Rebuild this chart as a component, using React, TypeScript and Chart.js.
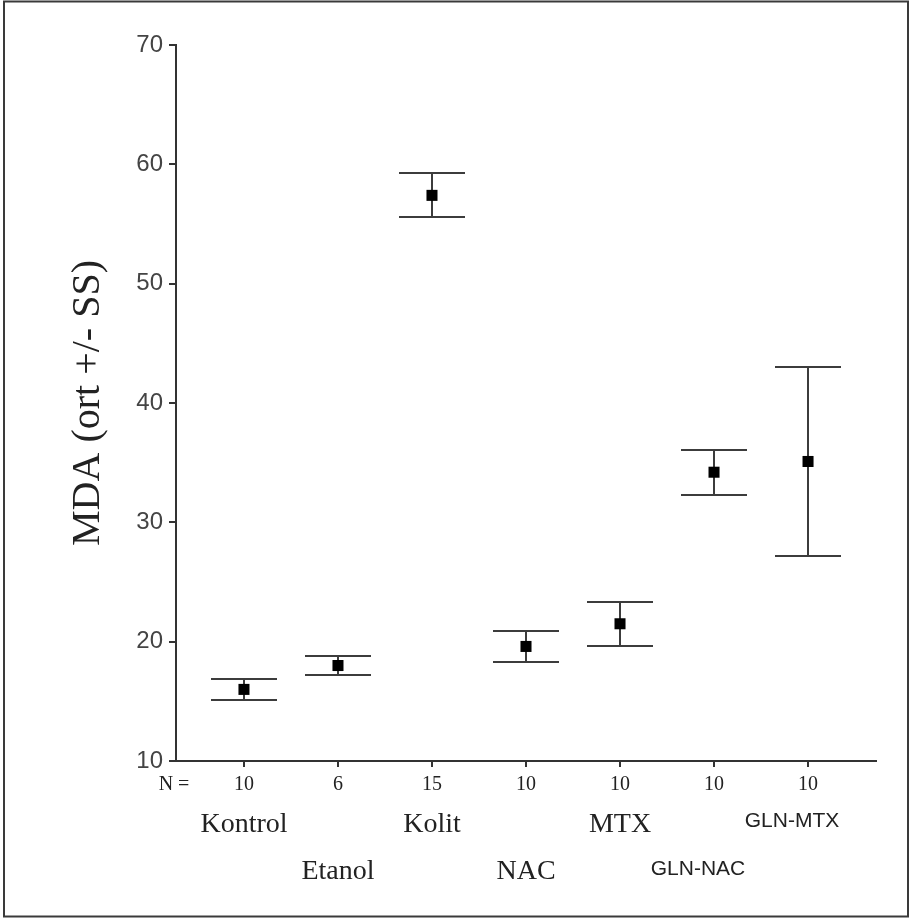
import React, { useEffect, useRef } from "react";
import { Chart, registerables } from "chart.js";

Chart.register(...registerables);

const categories = ["Kontrol", "Etanol", "Kolit", "NAC", "MTX", "GLN-NAC", "GLN-MTX"];
const nCounts = [10, 6, 15, 10, 10, 10, 10];
const means = [16.0, 18.0, 57.4, 19.6, 21.5, 34.2, 35.1];
const sds = [0.85, 0.77, 1.85, 1.3, 1.83, 1.9, 7.9];
const yTicks = [10, 20, 30, 40, 50, 60, 70];
const sansLabels = ["GLN-NAC", "GLN-MTX"];
const yTitle = "MDA (ort +/- SS)";

const LINE = "#333333";

const framePlugin = {
  id: "frame",
  beforeDraw(chart: any) {
    const { ctx, width, height } = chart;
    ctx.save();
    ctx.fillStyle = "#ffffff";
    ctx.fillRect(0, 0, width, height);
    ctx.strokeStyle = "#3a3a3a";
    ctx.lineWidth = 2;
    ctx.strokeRect(4, 1.5, 904, 915);
    ctx.restore();
  },
};

const errorBarPlugin = {
  id: "errorBars",
  beforeDatasetsDraw(chart: any) {
    const { ctx } = chart;
    const x = chart.scales.x;
    const y = chart.scales.y;
    ctx.save();
    ctx.strokeStyle = "#3c3c3c";
    ctx.lineWidth = 2;
    means.forEach((m, i) => {
      const px = Math.round(x.getPixelForValue(i));
      const top = Math.round(y.getPixelForValue(m + sds[i]));
      const bot = Math.round(y.getPixelForValue(m - sds[i]));
      ctx.beginPath();
      ctx.moveTo(px, top);
      ctx.lineTo(px, bot);
      ctx.moveTo(px - 33, top);
      ctx.lineTo(px + 33, top);
      ctx.moveTo(px - 33, bot);
      ctx.lineTo(px + 33, bot);
      ctx.stroke();
    });
    ctx.restore();
  },
};

const xLabelPlugin = {
  id: "xLabels",
  afterDraw(chart: any) {
    const { ctx, chartArea } = chart;
    const x = chart.scales.x;
    const base = chartArea.bottom;
    ctx.save();
    ctx.fillStyle = "#222222";
    ctx.textAlign = "center";
    ctx.textBaseline = "middle";
    ctx.font = "20px 'Liberation Serif'";
    ctx.fillText("N =", chartArea.left - 2, base + 24);
    nCounts.forEach((n, i) => {
      ctx.fillText(String(n), x.getPixelForValue(i), base + 24);
    });
    categories.forEach((c, i) => {
      const sans = sansLabels.includes(c);
      ctx.font = sans ? "21px 'Liberation Sans'" : "28px 'Liberation Serif'";
      const rowY = i % 2 === 0 ? (sans ? 60 : 64) : (sans ? 108 : 111);
      const dx = sans ? -16 : 0;
      ctx.fillText(c, x.getPixelForValue(i) + dx, base + rowY);
    });
    ctx.restore();
  },
};

export default function App() {
  const ref = useRef<HTMLCanvasElement | null>(null);

  useEffect(() => {
    if (!ref.current) return;
    const chart = new Chart(ref.current, {
      type: "scatter",
      data: {
        datasets: [
          {
            data: means.map((m, i) => ({ x: i, y: m })),
            pointStyle: "rect",
            pointRadius: 7.8,
            pointHoverRadius: 7.8,
            backgroundColor: "#000000",
            borderColor: "#000000",
            borderWidth: 0,
            showLine: false,
          },
        ],
      },
      options: {
        responsive: false,
        animation: false,
        devicePixelRatio: 1,
        layout: { padding: { top: 45, right: 37, bottom: 0, left: 0 } },
        plugins: {
          legend: { display: false },
          tooltip: { enabled: false },
        },
        scales: {
          x: {
            type: "linear",
            min: -0.723,
            max: 6.723,
            afterBuildTicks: (sc: any) => {
              sc.ticks = categories.map((_, i) => ({ value: i }));
            },
            afterFit: (sc: any) => {
              sc.height = 159;
            },
            ticks: { display: false },
            grid: {
              drawOnChartArea: false,
              drawTicks: true,
              tickLength: 6,
              color: LINE,
              lineWidth: 2,
            },
            border: { color: LINE, width: 2 },
          },
          y: {
            type: "linear",
            min: yTicks[0],
            max: yTicks[yTicks.length - 1],
            afterBuildTicks: (sc: any) => {
              sc.ticks = yTicks.map((v) => ({ value: v }));
            },
            afterFit: (sc: any) => {
              sc.width = 176;
            },
            ticks: {
              font: { family: "'Liberation Sans'", size: 24 },
              color: "#444444",
              padding: 6,
            },
            grid: {
              drawOnChartArea: false,
              drawTicks: true,
              tickLength: 7,
              color: LINE,
              lineWidth: 2,
            },
            border: { color: LINE, width: 2 },
            title: {
              display: true,
              text: yTitle,
              font: { family: "'Liberation Serif'", size: 40 },
              color: "#222222",
              padding: { top: 64, bottom: 0 },
            },
          },
        },
      },
      plugins: [framePlugin, errorBarPlugin, xLabelPlugin],
    } as any);
    return () => chart.destroy();
  }, []);

  return (
    <div style={{ position: "absolute", left: 0, top: 0, width: 913, height: 920 }}>
      <canvas ref={ref} width={913} height={920} style={{ width: 913, height: 920, display: "block" }} />
    </div>
  );
}
